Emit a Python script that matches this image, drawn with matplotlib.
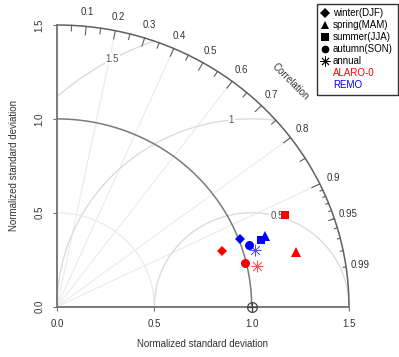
import numpy as np
import matplotlib.pyplot as plt
from matplotlib.lines import Line2D

plt.rcParams['font.family'] = ['Liberation Sans', 'DejaVu Sans']

seasons = ['winter(DJF)', 'spring(MAM)', 'summer(JJA)', 'autumn(SON)', 'annual']
season_markers = ['D', '^', 's', 'o', (8, 2, 0)]
season_sizes = [5.5, 7, 6, 6.5, 8.5]
models = ['ALARO-0', 'REMO']
model_colors = ['red', 'blue']

# normalized standard deviation and correlation, per season
alaro_sd = [0.896, 1.261, 1.271, 0.994, 1.052]
alaro_corr = [0.944, 0.973, 0.923, 0.972, 0.979]
remo_sd = [1.008, 1.132, 1.109, 1.037, 1.060]
remo_corr = [0.933, 0.943, 0.947, 0.949, 0.958]

max_sd = 1.5
ref_sd = 1.0
sd_ticks = [0.0, 0.5, 1.0, 1.5]
sd_ticklabels = ['0.0', '0.5', '1.0', '1.5']
rms_levels = [0.5, 1.0, 1.5]
rms_labels = ['0.5', '1', '1.5']
rms_label_angles = [75, 96, 118.5]
corr_labels = [0.1, 0.2, 0.3, 0.4, 0.5, 0.6, 0.7, 0.8, 0.9, 0.95, 0.99]
corr_lines = [0.2, 0.4, 0.6, 0.8, 0.9]

fig = plt.figure(figsize=(3.99, 3.57), dpi=100)
ax = fig.add_axes([57 / 399, 1 - 306.7 / 357, 292 / 399, 281.7 / 357])
ax.set_xlim(0, max_sd)
ax.set_ylim(0, max_sd)
for s in ['top', 'right']:
    ax.spines[s].set_visible(False)
for s in ['left', 'bottom']:
    ax.spines[s].set_color('#707070')
    ax.spines[s].set_linewidth(1.3)
ax.set_xticks(sd_ticks)
ax.set_xticklabels(sd_ticklabels)
ax.set_yticks(sd_ticks)
ax.set_yticklabels(sd_ticklabels, rotation=90, va='center')
ax.tick_params(length=3, color='#707070', labelsize=7, labelcolor='#333333', pad=6)
ax.set_xlabel('Normalized standard deviation', fontsize=7, color='#333333', labelpad=7)
ax.set_ylabel('Normalized standard deviation', fontsize=7, color='#333333', labelpad=11)

# correlation rays
for c in corr_lines:
    ax.plot([0, max_sd * c], [0, max_sd * np.sqrt(1 - c ** 2)], color='#ebebeb', lw=0.8, zorder=1)

# standard deviation arcs
t = np.linspace(0, np.pi / 2, 200)
ax.plot(0.5 * np.cos(t), 0.5 * np.sin(t), color='#ebebeb', lw=0.9, zorder=1)
ax.plot(ref_sd * np.cos(t), ref_sd * np.sin(t), color='#7a7a7a', lw=1.1, zorder=2)
ax.plot(max_sd * np.cos(t), max_sd * np.sin(t), color='#606060', lw=1.1, zorder=2, clip_on=False)

# centered RMS difference circles around the reference point
a = np.linspace(0, np.pi, 400)
for g, lab, ang in zip(rms_levels, rms_labels, rms_label_angles):
    x = ref_sd + g * np.cos(a)
    y = g * np.sin(a)
    keep = (x ** 2 + y ** 2 <= max_sd ** 2) & (x >= 0)
    x = np.where(keep, x, np.nan)
    ax.plot(x, y, color='#dcdcdc', lw=1.0, zorder=1)
    ang = np.radians(ang)
    ax.text(ref_sd + g * np.cos(ang), g * np.sin(ang), lab, fontsize=7, color='#555555',
            ha='center', va='center', zorder=3,
            bbox=dict(facecolor='white', edgecolor='none', pad=0.5))

# ticks along the outer arc
tick_sets = [(np.arange(0.1, 0.95, 0.1), 0.97),
             (np.arange(0.05, 0.96, 0.1), 0.98),
             (np.arange(0.91, 0.995, 0.01), 0.99)]
for cs, inner in tick_sets:
    for c in cs:
        th = np.arccos(c)
        ax.plot([max_sd * np.cos(th), inner * max_sd * np.cos(th)],
                [max_sd * np.sin(th), inner * max_sd * np.sin(th)],
                color='#606060', lw=0.8, clip_on=False)
for c in corr_labels:
    th = np.arccos(c)
    ax.text(1.05 * max_sd * np.cos(th), 1.05 * max_sd * np.sin(th), f'{c:g}',
            fontsize=7, color='#333333', ha='center', va='center')
ax.text(1.2, 1.2, 'Correlation', rotation=-45, fontsize=7, color='#333333', ha='center', va='center')

# reference point
ax.plot(ref_sd, 0, marker='o', ms=7, mfc='none', mec='#444444', mew=0.9, clip_on=False, zorder=5)
ax.plot(ref_sd, 0, marker='+', ms=7, color='#444444', mew=0.9, clip_on=False, zorder=5)

# model points
for sds, corrs, col in [(alaro_sd, alaro_corr, model_colors[0]), (remo_sd, remo_corr, model_colors[1])]:
    for sd, c, m, ms in zip(sds, corrs, season_markers, season_sizes):
        th = np.arccos(c)
        star = m == (8, 2, 0)
        ax.plot(sd * np.cos(th), sd * np.sin(th), marker=m, ms=ms, color=col,
                mew=0.5 if star else 0, alpha=0.7 if star else 1,
                linestyle='none', zorder=6)

handles = [Line2D([], [], marker=m, color='black', linestyle='none', ms=ms * 0.85,
                  mew=0.6 if m == (8, 2, 0) else 0)
           for m, ms in zip(season_markers, season_sizes)]
handles += [Line2D([], [], linestyle='none') for _ in models]
fig.legend(handles, seasons + models, loc='upper right', bbox_to_anchor=(0.997, 0.99),
           fontsize=7, labelcolor=['black'] * len(seasons) + model_colors,
           frameon=True, fancybox=False, edgecolor='#333333', framealpha=1,
           handlelength=0.8, handletextpad=0.4, labelspacing=0.2, borderpad=0.5, borderaxespad=0)

fig.savefig('out.png', dpi=100)
